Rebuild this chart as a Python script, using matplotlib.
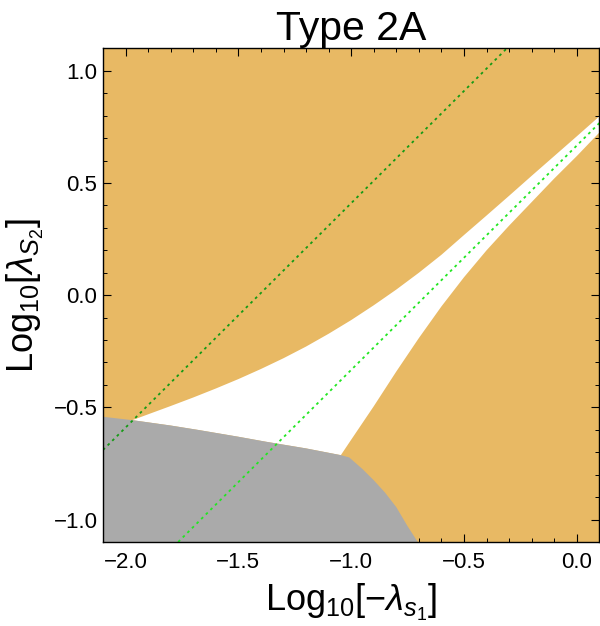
import matplotlib
matplotlib.use("Agg")
import matplotlib.pyplot as plt
from matplotlib.ticker import MultipleLocator

plt.rcParams['font.family'] = ['Liberation Sans', 'DejaVu Sans']
plt.rcParams['mathtext.fontset'] = 'custom'
plt.rcParams['mathtext.rm'] = 'Liberation Sans'
plt.rcParams['mathtext.it'] = 'Liberation Sans:italic'
plt.rcParams['mathtext.bf'] = 'Liberation Sans:bold'

# ---- data ----
# upper boundary of the white (allowed) band
upper_x = [-1.97, -1.9, -1.8, -1.7, -1.6, -1.5, -1.4, -1.3, -1.2, -1.1, -1.0,
           -0.9, -0.8, -0.7, -0.6, -0.5, -0.4, -0.3, -0.2, -0.1, 0.0, 0.1]
upper_y = [-0.557, -0.531, -0.494, -0.456, -0.416, -0.374, -0.329, -0.281, -0.229,
           -0.172, -0.111, -0.045, 0.025, 0.100, 0.180, 0.268, 0.355, 0.443,
           0.532, 0.620, 0.708, 0.797]
# lower-right boundary of the white band
lower_x = [-1.046, -1.0, -0.9, -0.8, -0.7, -0.6, -0.5, -0.4, -0.3, -0.2, -0.1, 0.0, 0.1]
lower_y = [-0.713, -0.644, -0.495, -0.340, -0.191, -0.050, 0.080, 0.200, 0.310,
           0.415, 0.520, 0.620, 0.725]
# top boundary of the gray region
gray_top_x = [-2.10, -1.97, -1.80, -1.676, -1.50, -1.379, -1.20, -1.046]
gray_top_y = [-0.542, -0.557, -0.581, -0.601, -0.631, -0.653, -0.683, -0.713]
# right boundary of the gray region
gray_right_x = [-1.046, -1.009, -0.95, -0.90, -0.85, -0.80, -0.75, -0.705]
gray_right_y = [-0.713, -0.723, -0.775, -0.825, -0.880, -0.945, -1.030, -1.100]
# dashed reference lines y = x + b
line_offsets = [1.41, 0.667]
line_colors = ['#159A15', '#22E622']

xlim = (-2.1, 0.1)
ylim = (-1.1, 1.1)
xticks = [-2.0, -1.5, -1.0, -0.5, 0.0]
yticks = [-1.0, -0.5, 0.0, 0.5, 1.0]

orange = '#E8B964'
gray = '#AAAAAA'

fig = plt.figure(figsize=(6.0, 6.26), dpi=100)
ax = fig.add_axes([0.1717, 0.1342, 0.8273, 0.7886])
ax.set_xlim(*xlim)
ax.set_ylim(*ylim)
ax.set_facecolor(orange)

# white band polygon
wx = upper_x + lower_x[::-1] + gray_top_x[::-1][1:-1]
wy = upper_y + lower_y[::-1] + gray_top_y[::-1][1:-1]
ax.fill(wx, wy, color='white', lw=0, zorder=1)

# gray polygon
gx = gray_top_x + gray_right_x[1:] + [xlim[0]]
gy = gray_top_y + gray_right_y[1:] + [ylim[0]]
ax.fill(gx, gy, color=gray, lw=0, zorder=2)

for b, c in zip(line_offsets, line_colors):
    ax.axline((0, b), slope=1, color=c, lw=1.3, linestyle=(0, (1.5, 2.1)),
              dash_capstyle='butt', zorder=3)

ax.set_xticks(xticks)
ax.set_yticks(yticks)
ax.set_xticklabels([f'{t:.1f}'.replace('-', '\u2212') for t in xticks])
ax.set_yticklabels([f'{t:.1f}'.replace('-', '\u2212') for t in yticks])
ax.xaxis.set_minor_locator(MultipleLocator(0.1))
ax.yaxis.set_minor_locator(MultipleLocator(0.1))
ax.tick_params(which='both', direction='in', top=True, right=True, color='black')
ax.tick_params(which='major', length=6, width=0.8, labelsize=16, pad=4)
ax.tick_params(which='minor', length=3.2, width=0.7)
ax.tick_params(axis='x', which='major', pad=7)
for s in ax.spines.values():
    s.set_linewidth(1.0)
    s.set_color('black')
    s.set_zorder(5)

ax.set_xlabel(r'Log$_{10}$[$-\lambda_{s_1}$]', fontsize=26)
ax.set_ylabel(r'Log$_{10}$[$\lambda_{S_2}$]', fontsize=26)
ax.xaxis.set_label_coords(0.5, -0.08)
ax.yaxis.set_label_coords(-0.115, 0.5)
ax.set_title('Type 2A', fontsize=29.5, pad=5)

fig.savefig('out.png', dpi=100)
